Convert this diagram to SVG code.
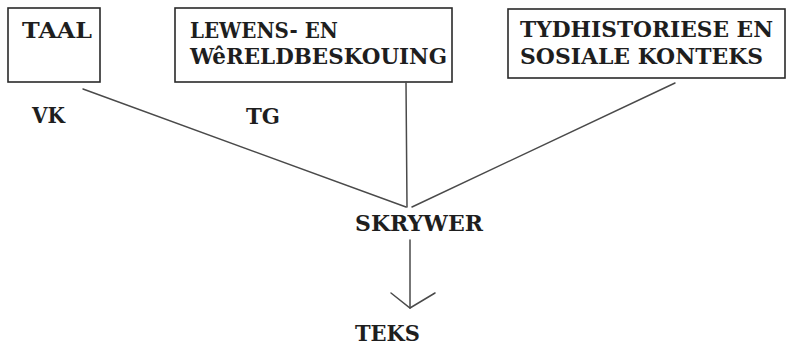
<svg xmlns="http://www.w3.org/2000/svg" width="790" height="345" viewBox="0 0 790 345">
<style>
.box{fill:#fff;stroke:#2a2a2a;stroke-width:1.6}
.t{font-family:"DejaVu Serif","Liberation Serif",serif;font-weight:bold;font-size:22px;fill:#1e1e1e}
.c{fill:none;stroke:#4a4a4a;stroke-width:1.5;stroke-linecap:round}
</style>
<rect width="790" height="345" fill="#fff"/>
<g id="taal">
<rect class="box" x="8" y="8" width="92" height="74"/>
<text class="t" x="22" y="38" textLength="70" lengthAdjust="spacingAndGlyphs">TAAL</text>
</g>
<g id="lewens">
<rect class="box" x="175" y="8" width="277" height="74"/>
<text class="t" x="190" y="38" textLength="148" lengthAdjust="spacingAndGlyphs">LEWENS- EN</text>
<text class="t" x="190" y="64" textLength="257" lengthAdjust="spacingAndGlyphs">WêRELDBESKOUING</text>
</g>
<g id="tyd">
<rect class="box" x="508" y="9" width="277" height="69"/>
<text class="t" x="520" y="37" textLength="253" lengthAdjust="spacingAndGlyphs">TYDHISTORIESE EN</text>
<text class="t" x="520" y="64" textLength="243" lengthAdjust="spacingAndGlyphs">SOSIALE KONTEKS</text>
</g>
<g id="vk"><text class="t" x="32" y="123" textLength="33" lengthAdjust="spacingAndGlyphs">VK</text></g>
<g id="tg"><text class="t" x="246" y="124" textLength="34" lengthAdjust="spacingAndGlyphs">TG</text></g>
<g id="skrywer"><text class="t" x="355" y="231" textLength="128" lengthAdjust="spacingAndGlyphs">SKRYWER</text></g>
<g id="teks"><text class="t" x="355" y="341" textLength="65" lengthAdjust="spacingAndGlyphs">TEKS</text></g>
<g id="connectors">
<line class="c" x1="83" y1="89" x2="406" y2="207"/>
<line class="c" x1="406" y1="82" x2="407" y2="207"/>
<line class="c" x1="675" y1="83" x2="412" y2="207"/>
<line class="c" x1="410" y1="240" x2="410" y2="308"/>
<polyline class="c" points="391,293 410,308 435,293"/>
</g>
</svg>
